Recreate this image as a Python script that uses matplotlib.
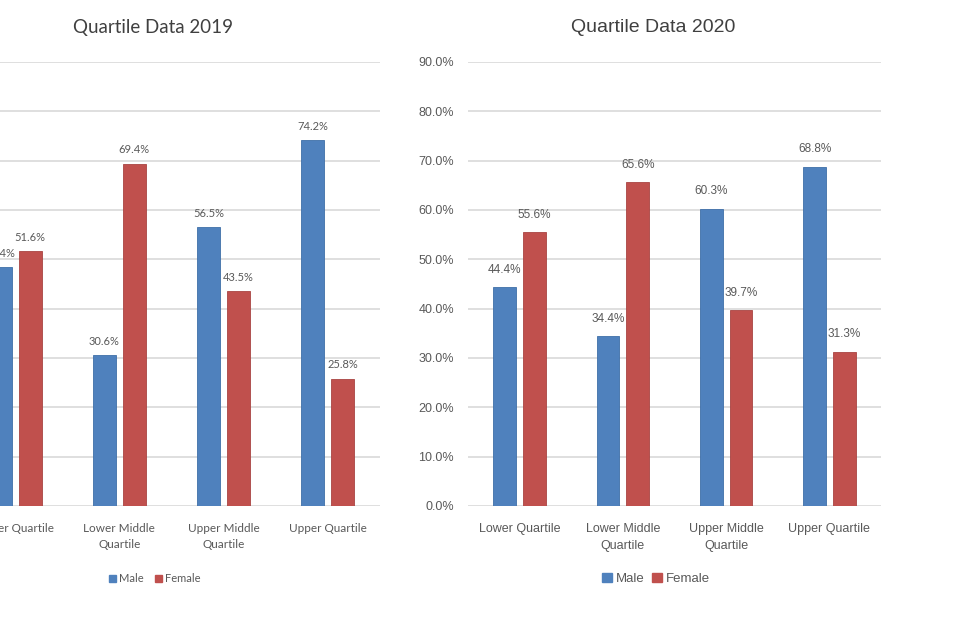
import matplotlib
matplotlib.use('Agg')
import matplotlib.pyplot as plt
from matplotlib.patches import Patch
import numpy as np

categories = ['Lower Quartile', 'Lower Middle\nQuartile', 'Upper Middle\nQuartile', 'Upper Quartile']
male_2019 = [48.4, 30.6, 56.5, 74.2]
female_2019 = [51.6, 69.4, 43.5, 25.8]
male_2020 = [44.4, 34.4, 60.3, 68.8]
female_2020 = [55.6, 65.6, 39.7, 31.3]
yticks = [0, 10, 20, 30, 40, 50, 60, 70, 80, 90]

blue = '#4F81BD'
red = '#C0504D'
grid = '#D9D9D9'
txt = '#595959'

fig = plt.figure(figsize=(9.6, 6.4), dpi=100)


def draw(ax, male, female, font, lab_size, tick_size, show_y, lab_off):
    x = np.arange(len(categories))
    w = 0.22
    off = 0.144
    b1 = ax.bar(x - off, male, w, color=blue, edgecolor='#3F6FA8', linewidth=0.6, zorder=3)
    b2 = ax.bar(x + off, female, w, color=red, edgecolor='#A94442', linewidth=0.6, zorder=3)
    for bars in (b1, b2):
        for r in bars:
            ax.annotate(f'{r.get_height():.1f}%', (r.get_x() + r.get_width() / 2, r.get_height()),
                        xytext=(0, lab_off), textcoords='offset points', ha='center', va='bottom',
                        fontsize=lab_size, color=txt, family=font)
    ax.set_xlim(-0.5, 3.5)
    ax.set_ylim(0, 90)
    ax.set_yticks(yticks)
    ax.yaxis.grid(True, color=grid, linewidth=1.2, zorder=0)
    for s in ax.spines.values():
        s.set_visible(False)
    ax.tick_params(length=0)
    ax.set_xticks(x)
    ax.set_xticklabels(categories, fontsize=tick_size, color=txt, family=font, linespacing=1.6)
    if show_y:
        ax.set_yticklabels([f'{v:.1f}%' for v in yticks], fontsize=tick_size, color=txt, family=font)
        ax.tick_params(axis='y', pad=10)
    else:
        ax.set_yticklabels([])
    ax.tick_params(axis='x', pad=12)


ax1 = fig.add_axes([-37 / 960, 134 / 640, 417 / 960, 444 / 640])
draw(ax1, male_2019, female_2019, 'Lato', 8, 8.5, False, 6)
ax2 = fig.add_axes([468 / 960, 134 / 640, 413 / 960, 444 / 640])
draw(ax2, male_2020, female_2020, 'Liberation Sans', 8.5, 9, True, 8)

fig.text(153 / 960, 1 - 28 / 640, 'Quartile Data 2019', ha='center', va='center',
         fontsize=13.5, color='#404040', family='Lato')
fig.text(653 / 960, 1 - 28 / 640, 'Quartile Data 2020', ha='center', va='center',
         fontsize=14, color='#404040', family='Liberation Sans')

handles = [Patch(color=blue), Patch(color=red)]
fig.legend(handles, ['Male', 'Female'], loc='center', bbox_to_anchor=(155 / 960, 1 - 579 / 640),
           ncol=2, frameon=False, handlelength=0.6, handleheight=0.6, handletextpad=0.3,
           columnspacing=1.0, prop={'family': 'Lato', 'size': 8}, labelcolor=txt)
fig.legend(handles, ['Male', 'Female'], loc='center', bbox_to_anchor=(656 / 960, 1 - 579 / 640),
           ncol=2, frameon=False, handlelength=0.7, handleheight=0.7, handletextpad=0.3,
           columnspacing=0.6, prop={'family': 'Liberation Sans', 'size': 9.5}, labelcolor=txt)

fig.savefig('out.png', dpi=100, facecolor='white')
